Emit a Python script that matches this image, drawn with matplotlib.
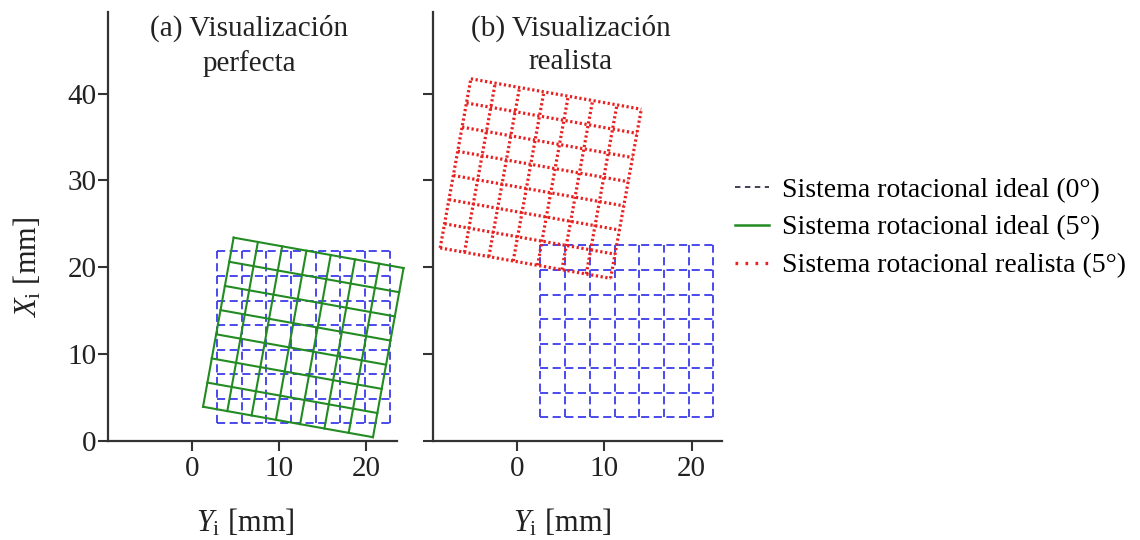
import matplotlib.pyplot as plt
import numpy as np

plt.rcParams['font.family'] = ['Liberation Serif', 'DejaVu Serif']
plt.rcParams['mathtext.fontset'] = 'custom'
plt.rcParams['mathtext.rm'] = 'Liberation Serif'
plt.rcParams['mathtext.it'] = 'Liberation Serif:italic'

# grid geometry (mm)
grid_size = 19.8
n_lines = 8
blue_origin_a = (2.9, 2.0)   # lower-left corner, panel (a)
blue_origin_b = (2.7, 2.7)   # lower-left corner, panel (b)
rot_deg = -10.2              # visible tilt of the rotated grids
red_center = (2.75, 30.2)    # centre of the "realista" grid

x_ticks = [0, 10, 20]
y_ticks = [0, 10, 20, 30, 40]
titles = ['(a) Visualización\nperfecta', '(b) Visualización\nrealista']
legend_labels = ['Sistema rotacional ideal (0°)',
                 'Sistema rotacional ideal (5°)',
                 'Sistema rotacional realista (5°)']

BLUE = '#3b3bea'
GREEN = '#228b22'
RED = '#e82020'
AXC = '#333333'
TXT = '#222222'
FS = 21


def grid_segments(origin, size, n, angle=0.0, center=None):
    pos = np.linspace(0, size, n) - size / 2
    h = size / 2
    segs = []
    for p in pos:
        segs.append(np.array([[p, -h], [p, h]]))
        segs.append(np.array([[-h, p], [h, p]]))
    if center is None:
        center = (origin[0] + h, origin[1] + h)
    a = np.deg2rad(angle)
    R = np.array([[np.cos(a), -np.sin(a)], [np.sin(a), np.cos(a)]])
    return [s @ R.T + np.array(center) for s in segs]


def draw(ax, segs, **kw):
    for s in segs:
        ax.plot(s[:, 0], s[:, 1], clip_on=False, **kw)


fig = plt.figure(figsize=(11.4, 5.4), dpi=100)
ax1 = fig.add_axes([0.0947, 0.1839, 0.2532, 0.794])
ax2 = fig.add_axes([0.3798, 0.1839, 0.2532, 0.794])

dash = dict(color=BLUE, lw=1.3, ls=(0, (4.5, 2.5)))
draw(ax1, grid_segments(blue_origin_a, grid_size, n_lines), **dash)
draw(ax1, grid_segments(blue_origin_a, grid_size, n_lines, rot_deg),
     color=GREEN, lw=1.5, ls='-')
draw(ax2, grid_segments(blue_origin_b, grid_size, n_lines), **dash)
draw(ax2, grid_segments(blue_origin_b, grid_size, n_lines, rot_deg,
                        red_center),
     color=RED, lw=2.3, ls=(0, (0.7, 0.8)))

ax1.set_xlim(-9.6, 23.5)
ax2.set_xlim(-9.57, 23.43)
title_x = [0.49, 0.478]
xlabel_x = [0.475, 0.45]
for i, ax in enumerate([ax1, ax2]):
    ax.set_ylim(0, 49.4)
    ax.spines['right'].set_visible(False)
    ax.spines['top'].set_visible(False)
    for s in ['left', 'bottom']:
        ax.spines[s].set_color(AXC)
        ax.spines[s].set_linewidth(1.6)
    ax.set_xticks(x_ticks)
    ax.set_yticks(y_ticks)
    ax.tick_params(colors=AXC, labelcolor=TXT, labelsize=FS,
                   length=7, width=1.5, direction='out')
    ax.tick_params(axis='y', pad=1)
    ax.tick_params(axis='x', pad=4)
    ax.set_xlabel(r'$Y_{\mathrm{i}}$ [mm]', fontsize=FS + 1, labelpad=18,
                  color=TXT)
    ax.xaxis.label.set_x(xlabel_x[i])
    ax.text(title_x[i], 0.993, titles[i], transform=ax.transAxes,
            ha='center', va='top', fontsize=FS, color=TXT, linespacing=1.35)
ax2.set_yticklabels([])
ax1.set_ylabel(r'$X_{\mathrm{i}}$ [mm]', fontsize=FS + 1, color=TXT)
ax1.yaxis.set_label_coords(-0.222, 0.405)

handles = [
    plt.Line2D([], [], color='#333344', lw=1.3, ls=(0, (3, 2.5))),
    plt.Line2D([], [], color=GREEN, lw=1.8, ls='-'),
    plt.Line2D([], [], color=RED, lw=2.4, ls=(0, (0.8, 2.2))),
]
fig.legend(handles, legend_labels, loc='center left',
           bbox_to_anchor=(0.623, 0.578), frameon=False, fontsize=20,
           handlelength=1.2, handletextpad=0.5, labelspacing=0.45)

fig.savefig('out.png', dpi=100)
